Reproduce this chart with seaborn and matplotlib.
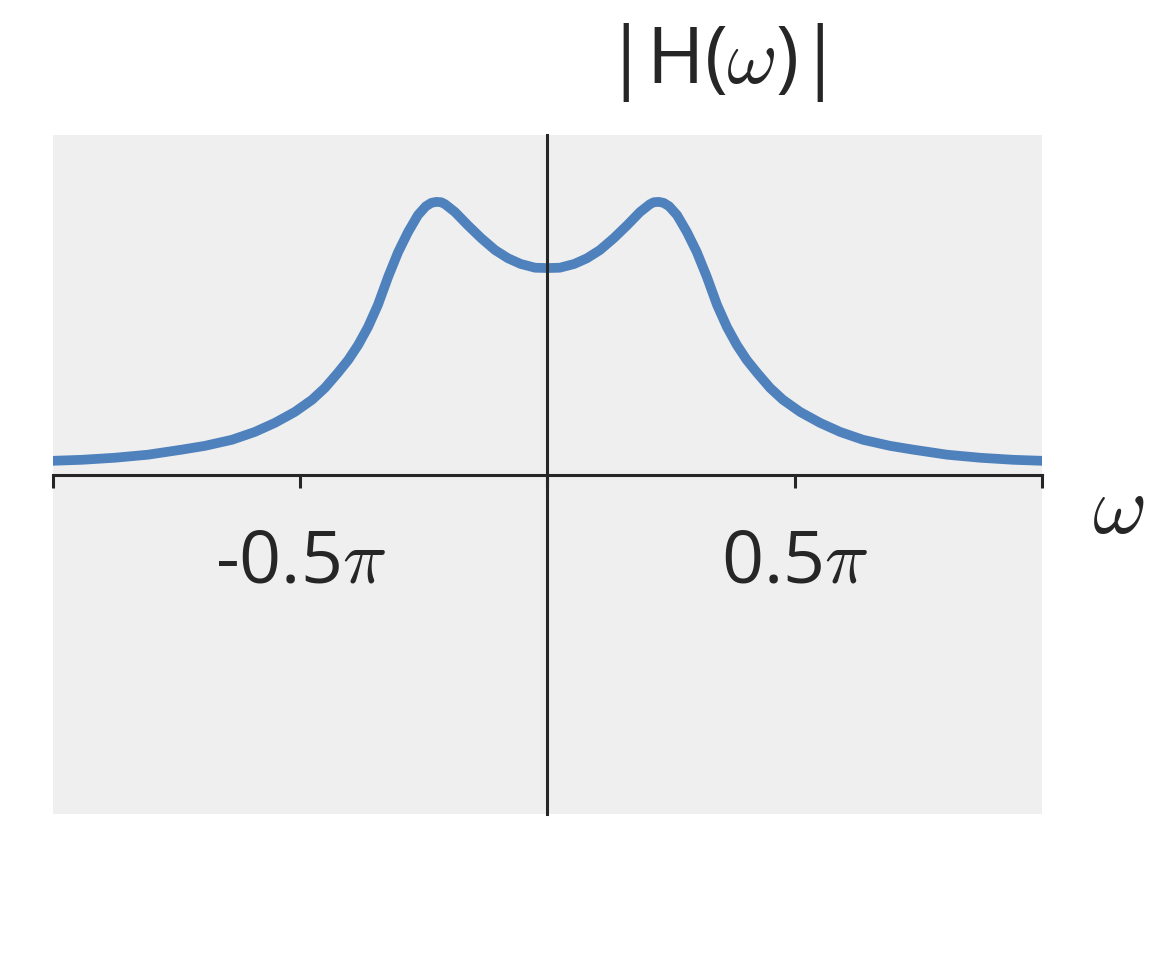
import numpy as np
import pandas as pd
import matplotlib.pyplot as plt
import seaborn as sns

# frequency in units of pi, magnitude (y axis spans -1..1)
omega_pi = [-1.0, -0.941, -0.875, -0.808, -0.739, -0.693, -0.638, -0.592, -0.551,
            -0.511, -0.476, -0.45, -0.424, -0.403, -0.383, -0.363, -0.343, -0.322,
            -0.302, -0.282, -0.262, -0.246, -0.235, -0.225, -0.215, -0.207, -0.187,
            -0.161, -0.134, -0.106, -0.08, -0.054, -0.025, 0.0,
            0.025, 0.054, 0.08, 0.106, 0.134, 0.161, 0.187, 0.207, 0.215, 0.225,
            0.235, 0.246, 0.262, 0.282, 0.302, 0.322, 0.343, 0.363, 0.383, 0.403,
            0.424, 0.45, 0.476, 0.511, 0.551, 0.592, 0.638, 0.693, 0.739, 0.808,
            0.875, 0.941, 1.0]
magnitude = [0.041, 0.044, 0.050, 0.059, 0.074, 0.085, 0.103, 0.126, 0.153,
             0.185, 0.221, 0.256, 0.300, 0.338, 0.382, 0.435, 0.500, 0.584,
             0.656, 0.715, 0.765, 0.791, 0.801, 0.804, 0.803, 0.797, 0.774,
             0.735, 0.697, 0.662, 0.638, 0.621, 0.610, 0.609,
             0.610, 0.621, 0.638, 0.662, 0.697, 0.735, 0.774, 0.797, 0.803, 0.804,
             0.801, 0.791, 0.765, 0.715, 0.656, 0.584, 0.500, 0.435, 0.382, 0.338,
             0.300, 0.256, 0.221, 0.185, 0.153, 0.126, 0.103, 0.085, 0.074, 0.059,
             0.050, 0.044, 0.041]

tick_pos = [-1, -0.5, 0, 0.5, 1]
tick_labels = ["", r"-0.5$\pi$", "", r"0.5$\pi$", ""]

sns.set_style("white")
plt.rcParams['font.family'] = ['Open Sans', 'DejaVu Sans']
plt.rcParams['mathtext.fontset'] = 'cm'

df = pd.DataFrame({"omega": omega_pi, "H": magnitude})

fig = plt.figure(figsize=(11.52, 9.6), dpi=100)
ax = fig.add_axes([0.046, 0.152, 0.8585, 0.707])
ax.set_facecolor('#efefef')

sns.lineplot(data=df, x="omega", y="H", ax=ax, color='#4f81bd',
             linewidth=7, estimator=None, sort=False)

ax.set_xlim(-1, 1)
ax.set_ylim(-1, 1)

# spines through the origin
ax.spines['left'].set_position(('data', 0))
ax.spines['bottom'].set_position(('data', 0))
ax.spines['top'].set_visible(False)
ax.spines['right'].set_visible(False)
for s in ('left', 'bottom'):
    ax.spines[s].set_color('#262626')
    ax.spines[s].set_linewidth(2.2)

ax.set_yticks([])
ax.set_xticks(tick_pos)
ax.set_xticklabels(tick_labels)
ax.tick_params(axis='x', bottom=True, direction='out', length=9, width=2.2, pad=28,
               labelsize=53, colors='#262626')
ax.set_xlabel("")
ax.set_ylabel("")

ax.text(0.668, 1.107, r"|H($\omega$)|", transform=ax.transAxes,
        ha='center', va='center', fontsize=56, color='#262626')
ax.text(1.077, 0.445, r"$\omega$", transform=ax.transAxes,
        ha='center', va='center', fontsize=60, color='#262626')

fig.savefig("out.png", dpi=100)
